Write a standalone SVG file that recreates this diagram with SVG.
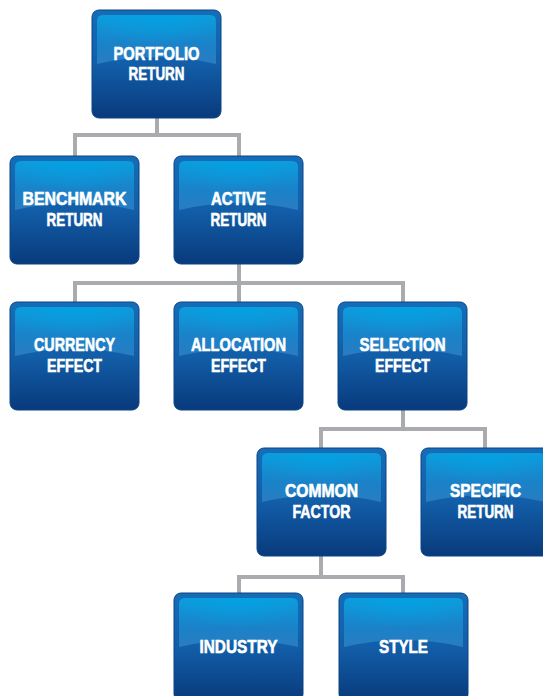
<svg xmlns="http://www.w3.org/2000/svg" xmlns:xlink="http://www.w3.org/1999/xlink" width="543" height="696" viewBox="0 0 543 696">
<defs>
<linearGradient id="body" x1="0" y1="0" x2="0" y2="1">
<stop offset="0" stop-color="#166db7"/>
<stop offset="0.5" stop-color="#125ea8"/>
<stop offset="1" stop-color="#093a7c"/>
</linearGradient>
<linearGradient id="gloss" x1="0" y1="0" x2="0" y2="1">
<stop offset="0" stop-color="#0e9cdc"/>
<stop offset="0.6" stop-color="#1a82c9"/>
<stop offset="1" stop-color="#2a7cc0"/>
</linearGradient>
<radialGradient id="shine" cx="0.5" cy="0" r="0.6">
<stop offset="0" stop-color="#00a3e4" stop-opacity="0.8"/>
<stop offset="1" stop-color="#00a3e4" stop-opacity="0"/>
</radialGradient>
<g id="box">
<rect x="0" y="0" width="129" height="108" rx="7" fill="url(#body)" stroke="#0b4585" stroke-width="1"/>
<path d="M5,11 Q5,5 11,5 H118 Q124,5 124,11 V54 Q64.5,40 5,54 Z" fill="url(#gloss)"/>
<path d="M5,11 Q5,5 11,5 H118 Q124,5 124,11 V54 Q64.5,40 5,54 Z" fill="url(#shine)"/>
</g>
</defs>
<style>
.lbl{font-family:"Liberation Sans",Arial,sans-serif;font-weight:bold;font-size:18.5px;fill:#ffffff;stroke:#ffffff;stroke-width:0.6;text-anchor:middle}
.con{fill:none;stroke:#a9abae;stroke-width:4;stroke-linecap:butt}
</style>
<rect width="543" height="696" fill="#ffffff"/>
<g id="connectors">
<path class="con" d="M157,118 V135 M75,156 V135 H239 V156"/>
<path class="con" d="M239,264 V283 M75,302 V283 H403 V302 M239,283 V302"/>
<path class="con" d="M403,410 V429 M321,448 V429 H485 V448"/>
<path class="con" d="M321,556 V577 M239,593 V577 H403 V593"/>
</g>
<g id="portfolio" transform="translate(92,10)"><use xlink:href="#box"/><text class="lbl" x="64.5" y="50" textLength="86" lengthAdjust="spacingAndGlyphs">PORTFOLIO</text><text class="lbl" x="64.5" y="70" textLength="56" lengthAdjust="spacingAndGlyphs">RETURN</text></g>
<g id="benchmark" transform="translate(10,156)"><use xlink:href="#box"/><text class="lbl" x="64.5" y="49" textLength="104" lengthAdjust="spacingAndGlyphs">BENCHMARK</text><text class="lbl" x="64.5" y="70" textLength="56" lengthAdjust="spacingAndGlyphs">RETURN</text></g>
<g id="active" transform="translate(174,156)"><use xlink:href="#box"/><text class="lbl" x="64.5" y="49" textLength="55" lengthAdjust="spacingAndGlyphs">ACTIVE</text><text class="lbl" x="64.5" y="70" textLength="56" lengthAdjust="spacingAndGlyphs">RETURN</text></g>
<g id="currency" transform="translate(10,302)"><use xlink:href="#box"/><text class="lbl" x="64.5" y="49" textLength="81" lengthAdjust="spacingAndGlyphs">CURRENCY</text><text class="lbl" x="64.5" y="70" textLength="55" lengthAdjust="spacingAndGlyphs">EFFECT</text></g>
<g id="allocation" transform="translate(174,302)"><use xlink:href="#box"/><text class="lbl" x="64.5" y="49" textLength="95" lengthAdjust="spacingAndGlyphs">ALLOCATION</text><text class="lbl" x="64.5" y="70" textLength="55" lengthAdjust="spacingAndGlyphs">EFFECT</text></g>
<g id="selection" transform="translate(338,302)"><use xlink:href="#box"/><text class="lbl" x="64.5" y="49" textLength="86" lengthAdjust="spacingAndGlyphs">SELECTION</text><text class="lbl" x="64.5" y="70" textLength="55" lengthAdjust="spacingAndGlyphs">EFFECT</text></g>
<g id="common" transform="translate(257,448)"><use xlink:href="#box"/><text class="lbl" x="64.5" y="49" textLength="73" lengthAdjust="spacingAndGlyphs">COMMON</text><text class="lbl" x="64.5" y="70" textLength="58" lengthAdjust="spacingAndGlyphs">FACTOR</text></g>
<g id="specific" transform="translate(421,448)"><use xlink:href="#box"/><text class="lbl" x="64.5" y="49" textLength="71" lengthAdjust="spacingAndGlyphs">SPECIFIC</text><text class="lbl" x="64.5" y="70" textLength="56" lengthAdjust="spacingAndGlyphs">RETURN</text></g>
<g id="industry" transform="translate(174,593)"><use xlink:href="#box"/><text class="lbl" x="64.5" y="60" textLength="78" lengthAdjust="spacingAndGlyphs">INDUSTRY</text></g>
<g id="style" transform="translate(339,593)"><use xlink:href="#box"/><text class="lbl" x="64.5" y="60" textLength="49" lengthAdjust="spacingAndGlyphs">STYLE</text></g>
</svg>
